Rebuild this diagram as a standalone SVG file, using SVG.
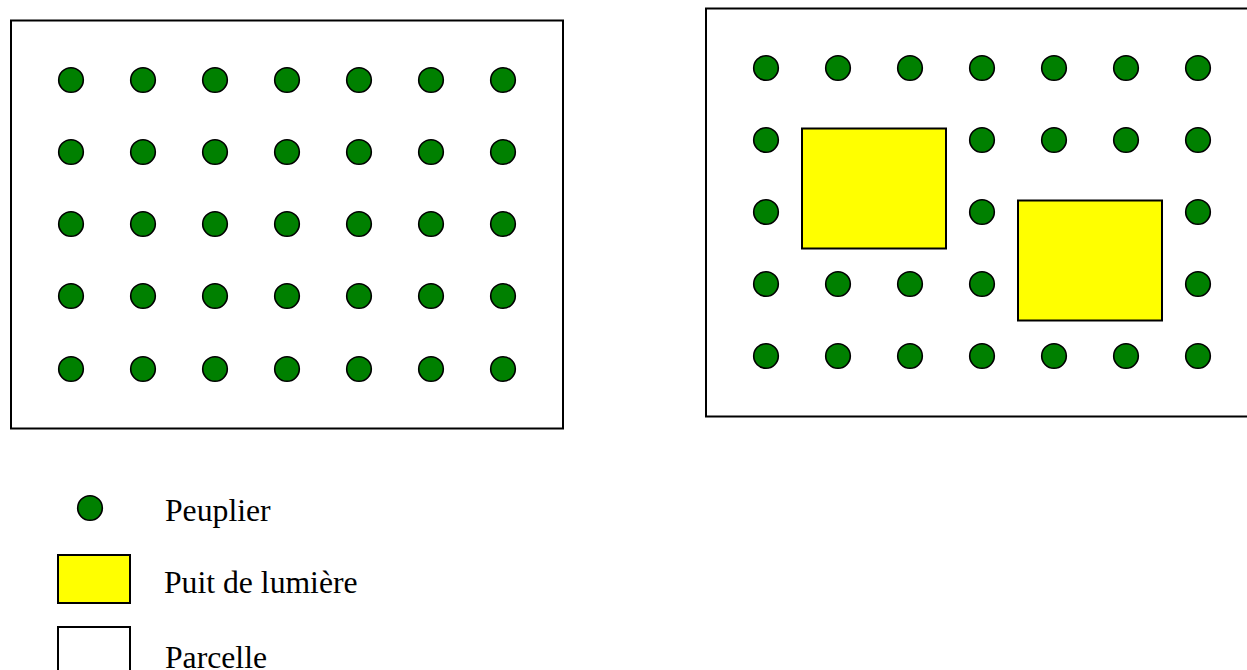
<svg xmlns="http://www.w3.org/2000/svg" width="1247" height="670" viewBox="0 0 1247 670">
<defs>
<style>
.parcel{fill:#fff;stroke:#000;stroke-width:2}
.tree{fill:#008000;stroke:#000;stroke-width:1.6}
.light{fill:#ffff00;stroke:#000;stroke-width:2}
.lbl{font-family:"Liberation Serif","Times New Roman",serif;font-size:31.7px;fill:#000}
</style>
<circle id="t" class="tree" r="12.3" cx="0" cy="0"/>
</defs>
<rect width="1247" height="670" fill="#fff"/>
<g id="parcelle-1">
<rect class="parcel" x="11" y="20.5" width="552" height="408"/>
<g id="arbres-1">
<use href="#t" x="71" y="80"/><use href="#t" x="143" y="80"/><use href="#t" x="215" y="80"/><use href="#t" x="287" y="80"/><use href="#t" x="359" y="80"/><use href="#t" x="431" y="80"/><use href="#t" x="503" y="80"/>
<use href="#t" x="71" y="152"/><use href="#t" x="143" y="152"/><use href="#t" x="215" y="152"/><use href="#t" x="287" y="152"/><use href="#t" x="359" y="152"/><use href="#t" x="431" y="152"/><use href="#t" x="503" y="152"/>
<use href="#t" x="71" y="224"/><use href="#t" x="143" y="224"/><use href="#t" x="215" y="224"/><use href="#t" x="287" y="224"/><use href="#t" x="359" y="224"/><use href="#t" x="431" y="224"/><use href="#t" x="503" y="224"/>
<use href="#t" x="71" y="296"/><use href="#t" x="143" y="296"/><use href="#t" x="215" y="296"/><use href="#t" x="287" y="296"/><use href="#t" x="359" y="296"/><use href="#t" x="431" y="296"/><use href="#t" x="503" y="296"/>
<use href="#t" x="71" y="369"/><use href="#t" x="143" y="369"/><use href="#t" x="215" y="369"/><use href="#t" x="287" y="369"/><use href="#t" x="359" y="369"/><use href="#t" x="431" y="369"/><use href="#t" x="503" y="369"/>
</g>
</g>
<g id="parcelle-2">
<rect class="parcel" x="706" y="8.5" width="560" height="408"/>
<rect id="puit-1" class="light" x="802" y="128.5" width="144" height="120"/>
<rect id="puit-2" class="light" x="1018" y="200.5" width="144" height="120"/>
<g id="arbres-2">
<use href="#t" x="766" y="68"/><use href="#t" x="838" y="68"/><use href="#t" x="910" y="68"/><use href="#t" x="982" y="68"/><use href="#t" x="1054" y="68"/><use href="#t" x="1126" y="68"/><use href="#t" x="1198" y="68"/>
<use href="#t" x="766" y="140"/><use href="#t" x="982" y="140"/><use href="#t" x="1054" y="140"/><use href="#t" x="1126" y="140"/><use href="#t" x="1198" y="140"/>
<use href="#t" x="766" y="212"/><use href="#t" x="982" y="212"/><use href="#t" x="1198" y="212"/>
<use href="#t" x="766" y="284"/><use href="#t" x="838" y="284"/><use href="#t" x="910" y="284"/><use href="#t" x="982" y="284"/><use href="#t" x="1198" y="284"/>
<use href="#t" x="766" y="356"/><use href="#t" x="838" y="356"/><use href="#t" x="910" y="356"/><use href="#t" x="982" y="356"/><use href="#t" x="1054" y="356"/><use href="#t" x="1126" y="356"/><use href="#t" x="1198" y="356"/>
</g>
</g>
<g id="legende">
<g id="leg-peuplier">
<use href="#t" x="90" y="508"/>
<text class="lbl" x="165" y="521">Peuplier</text>
</g>
<g id="leg-puit">
<rect class="light" x="58" y="555" width="72" height="48"/>
<text class="lbl" x="164" y="593">Puit de lumière</text>
</g>
<g id="leg-parcelle">
<rect class="parcel" x="58" y="627" width="72" height="48"/>
<text class="lbl" x="165" y="668">Parcelle</text>
</g>
</g>
</svg>
